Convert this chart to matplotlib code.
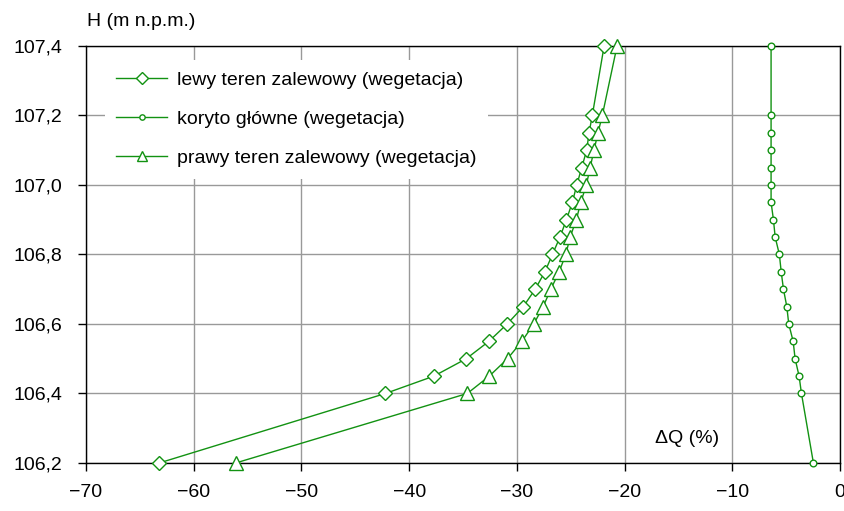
import numpy as np
import matplotlib
matplotlib.use("Agg")
from matplotlib import pyplot as plt
from matplotlib.ticker import FuncFormatter

plt.rcParams['font.family'] = ['Liberation Sans', 'DejaVu Sans']

# water level H (m n.p.m.)
H = [106.2, 106.4, 106.45, 106.5, 106.55, 106.6, 106.65, 106.7, 106.75, 106.8,
     106.85, 106.9, 106.95, 107.0, 107.05, 107.1, 107.15, 107.2, 107.4]

# dQ (%) for each part of the cross-section
dq_left = [-63.2, -42.2, -37.7, -34.7, -32.6, -30.9, -29.4, -28.3, -27.4, -26.7,
           -26.0, -25.4, -24.85, -24.44, -23.98, -23.52, -23.3, -23.0, -21.9]
dq_main = [-2.47, -3.58, -3.8, -4.17, -4.35, -4.76, -4.94, -5.25, -5.46, -5.63,
           -6.02, -6.18, -6.4, -6.4, -6.4, -6.4, -6.4, -6.4, -6.4]
dq_right = [-56.1, -34.6, -32.56, -30.87, -29.54, -28.43, -27.56, -26.85, -26.08, -25.46,
            -25.06, -24.48, -24.07, -23.55, -23.2, -22.84, -22.47, -22.07, -20.7]

labels = ['lewy teren zalewowy (wegetacja)',
          'koryto główne (wegetacja)',
          'prawy teren zalewowy (wegetacja)']

green = '#129212'

fig = plt.figure(figsize=(8.45, 5.11), dpi=100)
ax = fig.add_axes([0.1018, 0.094, 0.8923, 0.816])

ax.plot(dq_left, H, color=green, lw=1, marker='D', ms=7.5, mfc='white', mew=1,
        label=labels[0], clip_on=False, zorder=3)
ax.plot(dq_main, H, color=green, lw=1, marker='o', ms=4.8, mfc='white', mew=1,
        label=labels[1], clip_on=False, zorder=3)
ax.plot(dq_right, H, color=green, lw=1, marker='^', ms=9.5, mfc='white', mew=1,
        label=labels[2], clip_on=False, zorder=3)

ax.set_xlim(-70, 0)
ax.set_ylim(106.2, 107.4)
ax.set_xticks(np.arange(-70, 1, 10))
ax.set_yticks(np.arange(106.2, 107.41, 0.2))
ax.yaxis.set_major_formatter(FuncFormatter(lambda v, p: f'{v:.1f}'.replace('.', ',')))
ax.xaxis.set_major_formatter(FuncFormatter(lambda v, p: f'{v:.0f}'.replace('-', '\u2212')))

ax.grid(True, color='#999999', lw=1)
ax.set_axisbelow(True)
ax.tick_params(direction='out', length=6, width=1, labelsize=14)
ax.tick_params(axis='y', pad=11)
ax.tick_params(axis='x', pad=9)
for s in ax.spines.values():
    s.set_color('black')
    s.set_linewidth(1)

leg = ax.legend(loc='upper left', bbox_to_anchor=(0.012, 0.99), frameon=True, fontsize=14,
                handlelength=2.6, handletextpad=0.5, labelspacing=1.1, borderpad=0.6,
                markerscale=0.8)
leg.get_frame().set_edgecolor('none')
leg.get_frame().set_facecolor('white')
leg.get_frame().set_alpha(1)
leg.set_zorder(5)

fig.text(0.103, 0.957, 'H (m n.p.m.)', fontsize=14, ha='left', va='center')
ax.text(-14.2, 106.27, '\u0394Q (%)', fontsize=14, ha='center', va='center')

fig.savefig('out.png', dpi=100)
